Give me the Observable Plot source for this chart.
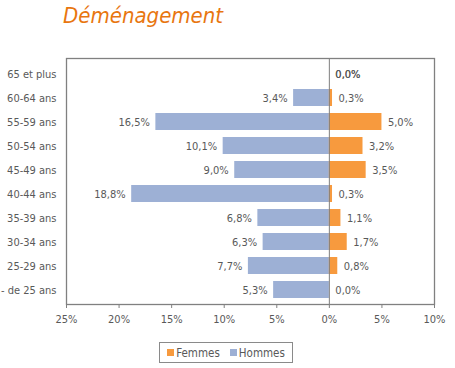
<!DOCTYPE html>
<html>
<head>
<meta charset="utf-8">
<script src="https://cdn.jsdelivr.net/npm/d3@7"></script>
<script src="https://cdn.jsdelivr.net/npm/@observablehq/plot@0.6"></script>
<style>
  html, body { margin: 0; padding: 0; background: #fff; }
  body { width: 455px; height: 368px; overflow: hidden; font-family: "DejaVu Sans", sans-serif; }
  #title { height: 36px; position: relative; }
  #title span { position: absolute; left: 63px; top: 3px; font-family: "DejaVu Sans Condensed", "DejaVu Sans", sans-serif; font-stretch: condensed; font-style: italic; font-size: 22px; color: #E8760F; }
  #chart { height: 299px; }
  #chart svg { display: block; }
  #legend { position: absolute; left: 159px; top: 342px; width: 132px; height: 19px; border: 1px solid #8a8a8a; display: flex; align-items: center; justify-content: center; gap: 10px; font-size: 11.5px; color: #595959; font-family: "DejaVu Sans Condensed", "DejaVu Sans", sans-serif; font-stretch: condensed; }
  #legend .item { display: flex; align-items: center; gap: 2px; }
  #legend .sw { width: 7px; height: 7px; display: inline-block; }
</style>
</head>
<body>
<div id="title"><span>Déménagement</span></div>
<div id="chart"></div>
<div id="legend"></div>
<script>
const categories = ["65 et plus", "60-64 ans", "55-59 ans", "50-54 ans", "45-49 ans", "40-44 ans", "35-39 ans", "30-34 ans", "25-29 ans", "- de 25 ans"];
const hommes = [0.0, 3.4, 16.5, 10.1, 9.0, 18.8, 6.8, 6.3, 7.7, 5.3];
const femmes = [0.0, 0.3, 5.0, 3.2, 3.5, 0.3, 1.1, 1.7, 0.8, 0.0];
const xTicks = [-25, -20, -15, -10, -5, 0, 5, 10];
const seriesNames = ["Femmes", "Hommes"];
const colors = {Femmes: "#F79A3E", Hommes: "#9DB0D5"};

const fmt = v => v.toFixed(1).replace(".", ",") + "%";
const rows = categories.map((c, i) => ({cat: c, h: hommes[i], f: femmes[i]}));
const hLabels = rows.filter(d => d.h > 0);
const hZero = rows.filter(d => d.h === 0);

const textColor = "#595959";
const chart = Plot.plot({
  width: 455,
  height: 299,
  marginLeft: 66,
  marginRight: 21,
  marginTop: 22,
  marginBottom: 31,
  style: {fontFamily: "'DejaVu Sans Condensed', 'DejaVu Sans', sans-serif", fontStretch: "condensed", fontSize: "11px", color: textColor, background: "#fff"},
  x: {domain: [-25, 10], ticks: xTicks, tickFormat: d => Math.abs(d) + "%", label: null},
  y: {domain: categories, paddingInner: 0.3, paddingOuter: 0.15, label: null},
  marks: [
    Plot.barX(rows, {y: "cat", x1: d => -d.h, x2: 0, fill: colors.Hommes}),
    Plot.barX(rows, {y: "cat", x1: 0, x2: d => d.f, fill: colors.Femmes}),
    Plot.ruleX([0], {stroke: "#7f7f7f", strokeWidth: 1}),
    Plot.frame({stroke: "#808080", strokeWidth: 1.3}),
    Plot.axisX({ticks: xTicks, tickFormat: d => Math.abs(d) + "%", tickSize: 4, tickPadding: 7, stroke: "#808080", color: textColor, label: null}),
    Plot.axisY({tickSize: 0, tickPadding: 10, color: textColor, label: null}),
    Plot.text(hLabels, {y: "cat", x: d => -d.h, text: d => fmt(d.h), dx: -6, textAnchor: "end", fill: textColor}),
    Plot.text(rows, {y: "cat", x: d => d.f, text: d => fmt(d.f), dx: 6, textAnchor: "start", fill: textColor}),
    Plot.text(hZero, {y: "cat", x: 0, text: d => fmt(d.h), dx: 6, textAnchor: "start", fill: textColor})
  ]
});
document.getElementById("chart").appendChild(chart);

const legend = document.getElementById("legend");
for (const name of seriesNames) {
  const item = document.createElement("span");
  item.className = "item";
  const sw = document.createElement("span");
  sw.className = "sw";
  sw.style.background = colors[name];
  item.appendChild(sw);
  item.appendChild(document.createTextNode(name));
  legend.appendChild(item);
}
</script>
</body>
</html>
